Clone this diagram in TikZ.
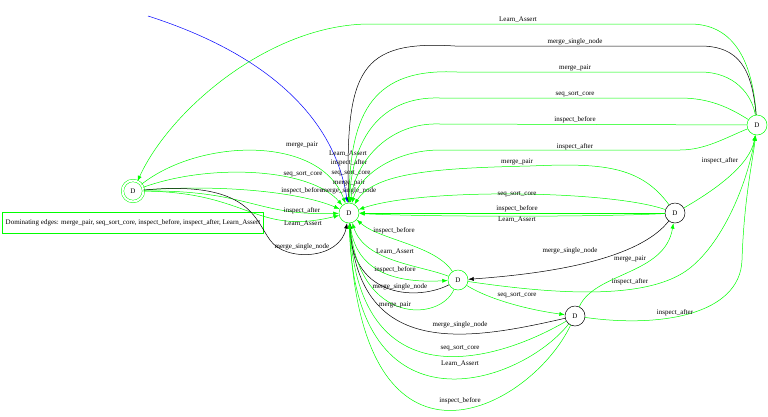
\documentclass[tikz,border=0pt]{standalone}
\usepackage{fontspec}
\setmainfont{Liberation Serif}
\usetikzlibrary{arrows.meta}
\definecolor{gv}{RGB}{0,255,0}
\begin{document}
\begin{tikzpicture}[x=1pt,y=-1pt,font=\fontsize{7}{8}\selectfont]
\tikzset{
 ar/.style={-{Latex[length=5.5pt,width=4pt]}, line width=0.5pt},
 gE/.style={ar, draw=gv},
 kE/.style={ar, draw=black},
 bE/.style={ar, draw=blue},
 st/.style={circle, draw, minimum size=20pt, inner sep=0pt, line width=0.5pt},
 lbl/.style={inner sep=0.5pt},
 legbox/.style={draw=gv, line width=0.9pt},
}
\useasboundingbox (0,0) rectangle (768,416);
% states
\node[st, draw=gv, double=white, double distance=2pt, minimum size=21pt] (A) at (133,191) {D};
\node[st, draw=gv] (C) at (349,213) {D};
\node[st, draw=gv] (B2) at (458,280) {D};
\node[st, draw=black] (B3) at (575,316) {D};
\node[st, draw=black] (B4) at (675,213) {D};
\node[st, draw=gv] (B5) at (757,125) {D};
\coordinate (S) at (148,16);
% legend
\node[minimum width=260pt, minimum height=20pt, inner sep=2pt] (leg) at (133,223)
 {Dominating edges: merge\_pair, seq\_sort\_core, inspect\_before, inspect\_after, Learn\_Assert};
\draw[legbox] (leg.south west) rectangle (leg.north east);
% start
\draw[bE] (S) .. controls (270,55) and (335,120) .. (C);
% A -> C
\draw[gE] (A) .. controls (200,138) and (320,135) .. (C);
\draw[gE] (A) .. controls (210,163) and (310,168) .. (C);
\draw[gE] (A) .. controls (220,184) and (300,192) .. (C);
\draw[gE] (A) .. controls (250,190) and (255,216) .. (C);
\draw[gE] (A) .. controls (250,192) and (255,236) .. (C);
\draw[kE] (A) .. controls (250,180) and (255,220) .. (270,240) .. controls (285,262) and (340,260) .. (C);
\node[lbl] (a1) at (302,145) {merge\_pair};
\node[lbl] (a2) at (303,174) {seq\_sort\_core};
\node[lbl] (a3) at (302,191) {inspect\_before};
\node[lbl] (a4) at (302,211) {inspect\_after};
\node[lbl] (a5) at (303,224) {Learn\_Assert};
\node[lbl] (a6) at (302,247) {merge\_single\_node};
% stacked labels above C
\node[lbl] (c1) at (348,154) {Learn\_Assert};
\node[lbl] (c2) at (349,163) {inspect\_after};
\node[lbl] (c3) at (351,173) {seq\_sort\_core};
\node[lbl] (c4) at (349,183) {merge\_pair};
\node[lbl] (c5) at (349,191) {merge\_single\_node};
% B5 edges
\draw[gE] (B5) .. controls (752,55) and (730,24) .. (690,24) -- (370,24) .. controls (270,24) and (170,110) .. (A);
\draw[kE] (B5) .. controls (752,70) and (740,46) .. (700,46) -- (455,46) .. controls (360,40) and (345,70) .. (C);
\draw[gE] (B5) .. controls (752,95) and (735,72) .. (700,72) -- (457,72) .. controls (375,68) and (350,110) .. (C);
\draw[gE] (B5) .. controls (730,108) and (710,98) .. (680,98) -- (440,98) .. controls (380,96) and (352,140) .. (C);
\draw[gE] (B5) -- (440,124) .. controls (390,122) and (356,160) .. (C);
\draw[gE] (B5) .. controls (725,138) and (705,150) .. (680,150) -- (440,150) .. controls (395,150) and (360,175) .. (C);
\node[lbl] (f1) at (518,20) {Learn\_Assert};
\node[lbl] (f2) at (575,42) {merge\_single\_node};
\node[lbl] (f3) at (575,68) {merge\_pair};
\node[lbl] (f4) at (575,94) {seq\_sort\_core};
\node[lbl] (f5) at (575,120) {inspect\_before};
\node[lbl] (f6) at (575,147) {inspect\_after};
% B4 edges
\draw[gE] (B4) .. controls (640,165) and (600,163) .. (530,166) .. controls (440,168) and (375,172) .. (C);
\draw[gE] (B4) .. controls (610,190) and (420,188) .. (C);
\draw[gE] (B4) -- (C);
\draw[gE] (B4) .. controls (600,217) and (430,217) .. (C);
\draw[kE] (B4) .. controls (650,245) and (600,270) .. (B2);
\draw[gE] (B4) .. controls (715,190) and (750,165) .. (B5);
\node[lbl] (e1) at (517,162) {merge\_pair};
\node[lbl] (e2) at (517,194) {seq\_sort\_core};
\node[lbl] (e3) at (517,209) {inspect\_before};
\node[lbl] (e4) at (517,220) {Learn\_Assert};
\node[lbl] (e5) at (570,251) {merge\_single\_node};
\node[lbl] (e6) at (720,161) {inspect\_after};
% B2 edges
\draw[gE] (B2) .. controls (435,245) and (380,240) .. (C);
\draw[gE] (B2) .. controls (420,265) and (365,262) .. (C);
\draw[gE] (C) .. controls (355,275) and (400,283) .. (B2);
\draw[kE] (B2) .. controls (420,300) and (353,300) .. (C);
\draw[gE] (B2) .. controls (440,322) and (360,325) .. (C);
\draw[gE] (B2) .. controls (490,300) and (530,310) .. (B3);
\draw[gE] (B2) .. controls (560,295) and (650,300) .. (690,268) .. controls (725,240) and (748,180) .. (B5);
\node[lbl] (d1) at (394,231) {inspect\_before};
\node[lbl] (d2) at (395,252) {Learn\_Assert};
\node[lbl] (d3) at (395,270) {inspect\_before};
\node[lbl] (d4) at (400,287) {merge\_single\_node};
\node[lbl] (d5) at (395,305) {merge\_pair};
\node[lbl] (d6) at (517,295) {seq\_sort\_core};
\node[lbl] (d7) at (630,282) {inspect\_after};
% B3 edges
\draw[gE] (B3) .. controls (595,272) and (665,275) .. (B4);
\draw[gE] (B3) .. controls (660,328) and (740,315) .. (742,260) .. controls (744,200) and (752,165) .. (B5);
\draw[kE] (B3) .. controls (470,340) and (360,360) .. (C);
\draw[gE] (B3) .. controls (500,360) and (360,405) .. (C);
\draw[gE] (B3) .. controls (520,385) and (355,440) .. (C);
\draw[gE] (B3) .. controls (530,410) and (360,500) .. (C);
\node[lbl] (g1) at (630,259) {merge\_pair};
\node[lbl] (g2) at (675,313) {inspect\_after};
\node[lbl] (g3) at (460,325) {merge\_single\_node};
\node[lbl] (g4) at (460,348) {seq\_sort\_core};
\node[lbl] (g5) at (460,364) {Learn\_Assert};
\node[lbl] (g6) at (460,401) {inspect\_before};
\end{tikzpicture}
\end{document}
